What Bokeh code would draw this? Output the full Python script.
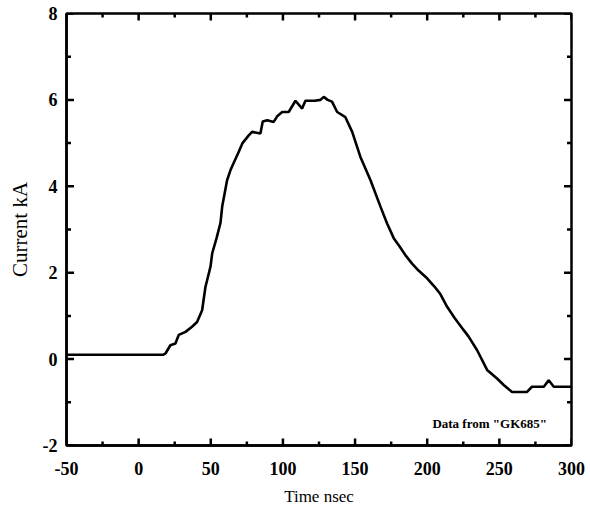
import math
from bokeh.plotting import figure
from bokeh.models import FixedTicker, Label, Range1d
from bokeh.embed import file_html
from bokeh.resources import INLINE

# Data
time_ns = [-50, 17, 18.6, 22, 25.5, 27.8, 32.5, 37, 40.5, 44, 46.3, 47.5, 49.8, 51,
           54, 56.7, 57.9, 61.3, 63.6, 66, 69.4, 72, 76.3, 78.6, 84.4, 86, 89.1,
           93.6, 96, 99.5, 104, 108.7, 113.3, 115.6, 122, 126, 128.3, 131, 134,
           137.6, 143.3, 148, 153.7, 160.7, 167.6, 172.2, 176.8, 181, 185, 189.5,
           194, 199.9, 205, 209.2, 213.8, 219, 225.3, 228.7, 234.5, 241.5, 248.4,
           253, 258.8, 269.2, 272.6, 280.8, 284.2, 287.7, 300]
current_ka = [0.1, 0.1, 0.13, 0.32, 0.36, 0.56, 0.63, 0.75, 0.86, 1.13, 1.67, 1.83, 2.14, 2.45,
              2.8, 3.15, 3.53, 4.14, 4.37, 4.55, 4.8, 5.0, 5.18, 5.26, 5.22, 5.5, 5.53,
              5.49, 5.62, 5.72, 5.72, 5.98, 5.8, 5.98, 5.98, 6.0, 6.07, 6.0, 5.96,
              5.72, 5.6, 5.26, 4.68, 4.14, 3.53, 3.14, 2.8, 2.6, 2.4, 2.21,
              2.05, 1.87, 1.68, 1.5, 1.21, 0.95, 0.67, 0.52, 0.21, -0.25, -0.45,
              -0.6, -0.76, -0.76, -0.64, -0.64, -0.49, -0.64, -0.64]

x_major = [-50, 0, 50, 100, 150, 200, 250, 300]
x_minor = [-25, 25, 75, 125, 175, 225, 275]
y_major = [-2, 0, 2, 4, 6, 8]
y_minor = [-1, 1, 3, 5, 7]

note_text = 'Data from "GK685"'
note_x, note_y = 283, -1.5

x_lo, x_hi = x_major[0], x_major[-1]
y_lo, y_hi = y_major[0], y_major[-1]

p = figure(width=586, height=514, output_backend="svg", toolbar_location=None,
           x_range=Range1d(x_lo, x_hi), y_range=Range1d(y_lo, y_hi),
           min_border_left=66, min_border_right=15, min_border_top=13, min_border_bottom=69,
           x_axis_label="Time nsec", y_axis_label="Current kA")
p.grid.visible = False
p.outline_line_color = "black"
p.outline_line_width = 2.5
p.background_fill_color = "white"
p.border_fill_color = "white"

p.line(time_ns, current_ka, line_color="black", line_width=2.6)

# inward tick marks on all four sides (half of each dash is clipped by the frame)
for xs, size in ((x_major, 14), (x_minor, 8)):
    for yv in (y_lo, y_hi):
        p.scatter(xs, [yv] * len(xs), marker="dash", angle=math.pi / 2, size=size,
                  line_color="black", line_width=2.5)
for ys, size in ((y_major, 15), (y_minor, 9)):
    for xv in (x_lo, x_hi):
        p.scatter([xv] * len(ys), ys, marker="dash", size=size,
                  line_color="black", line_width=2.5)

serif = "Liberation Serif"

for ax, maj, mnr in ((p.xaxis[0], x_major, x_minor), (p.yaxis[0], y_major, y_minor)):
    ax.ticker = FixedTicker(ticks=maj, minor_ticks=mnr)
    ax.major_label_overrides = {v: str(v) for v in maj}
    ax.major_tick_in = 0
    ax.major_tick_out = 0
    ax.minor_tick_in = 0
    ax.minor_tick_out = 0
    ax.axis_line_width = 2.5
    ax.major_label_text_font = serif
    ax.major_label_text_font_style = "bold"
    ax.major_label_text_font_size = "18px"
    ax.major_label_text_color = "black"
    ax.axis_label_text_font = serif
    ax.axis_label_text_font_style = "normal"
    ax.axis_label_text_color = "black"

p.xaxis[0].major_label_standoff = 16
p.xaxis[0].axis_label_text_font_size = "17px"
p.xaxis[0].axis_label_standoff = 9
p.yaxis[0].major_label_standoff = 9
p.yaxis[0].axis_label_text_font_size = "21px"
p.yaxis[0].axis_label_standoff = 8

p.add_layout(Label(x=note_x, y=note_y, text=note_text, text_align="right",
                   text_baseline="middle", text_font=serif, text_font_style="bold",
                   text_font_size="13px", text_color="black"))

open("out.html", "w").write(file_html(p, INLINE))
